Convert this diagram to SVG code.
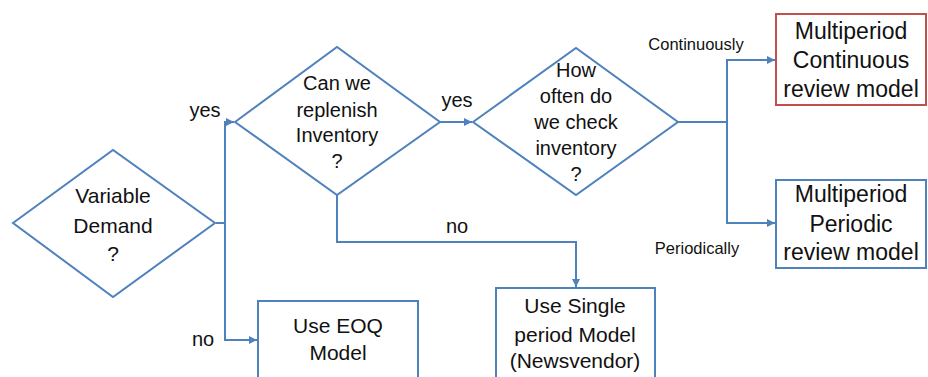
<svg xmlns="http://www.w3.org/2000/svg" width="928" height="377" viewBox="0 0 928 377">
<style>
.shape{fill:#fff;stroke:#4F81BD;stroke-width:2}
.red{fill:#fff;stroke:#C0504D;stroke-width:2}
.conn{fill:none;stroke:#4F81BD;stroke-width:2}
text{font-family:"Liberation Sans",Arial,sans-serif;fill:#111;text-anchor:middle}
.t22{font-size:23px}
.t21{font-size:21px}
.t20{font-size:20px}
.lbl{font-size:20px}
.sm{font-size:16.5px}
</style>
<defs>
<marker id="arr" viewBox="0 0 10 10" refX="10" refY="5" markerWidth="4" markerHeight="4" orient="auto" markerUnits="strokeWidth">
<path d="M0,0 L10,5 L0,10 z" fill="#4F81BD"/>
</marker>
</defs>
<rect width="928" height="377" fill="#fff"/>
<g id="connectors">
<polyline class="conn" points="216,223 225,223 225,122 234,122" marker-end="url(#arr)"/>
<polyline class="conn" points="225,223 225,340 257,340" marker-end="url(#arr)"/>
<polyline class="conn" points="440,122 472,122" marker-end="url(#arr)"/>
<polyline class="conn" points="678,122 727,122 727,60 775,60" marker-end="url(#arr)"/>
<polyline class="conn" points="727,122 727,223 775,223" marker-end="url(#arr)"/>
<polyline class="conn" points="337,195 337,242 576,242 576,287" marker-end="url(#arr)"/>
</g>
<g id="labels">
<text class="lbl" x="205" y="117">yes</text>
<text class="lbl" x="203" y="346">no</text>
<text class="lbl" x="457" y="107">yes</text>
<text class="lbl" x="457" y="233">no</text>
<text class="sm" x="696" y="50">Continuously</text>
<text class="sm" x="697" y="254">Periodically</text>
</g>
<g id="variable-demand">
<polygon class="shape" points="13,223 113,150 215,223 113,297"/>
<text class="t21" x="113" y="203">Variable</text>
<text class="t21" x="113" y="233">Demand</text>
<text class="t21" x="113" y="261">?</text>
</g>
<g id="replenish">
<polygon class="shape" points="235,122 337,47 440,122 337,195"/>
<text class="t20" x="337" y="90">Can we</text>
<text class="t20" x="337" y="117">replenish</text>
<text class="t20" x="337" y="142">Inventory</text>
<text class="t20" x="337" y="168">?</text>
</g>
<g id="check-often">
<polygon class="shape" points="473,122 576,48 678,122 576,195"/>
<text class="t20" x="576" y="77">How</text>
<text class="t20" x="576" y="103">often do</text>
<text class="t20" x="576" y="129">we check</text>
<text class="t20" x="576" y="155">inventory</text>
<text class="t20" x="576" y="181">?</text>
</g>
<g id="continuous">
<rect class="red" x="776" y="14" width="150" height="91"/>
<text class="t22" x="851" y="39">Multiperiod</text>
<text class="t22" x="851" y="68">Continuous</text>
<text class="t22" x="851" y="97">review model</text>
</g>
<g id="periodic">
<rect class="shape" x="776" y="180" width="150" height="88"/>
<text class="t22" x="851" y="202">Multiperiod</text>
<text class="t22" x="851" y="232">Periodic</text>
<text class="t22" x="851" y="260">review model</text>
</g>
<g id="eoq">
<rect class="shape" x="258" y="301" width="160" height="80"/>
<text class="t21" x="338" y="333">Use EOQ</text>
<text class="t21" x="338" y="360">Model</text>
</g>
<g id="single-period">
<rect class="shape" x="496" y="288" width="159" height="95"/>
<text class="t21" x="575" y="313">Use Single</text>
<text class="t21" x="575" y="342">period Model</text>
<text class="t21" x="575" y="368">(Newsvendor)</text>
</g>
</svg>
